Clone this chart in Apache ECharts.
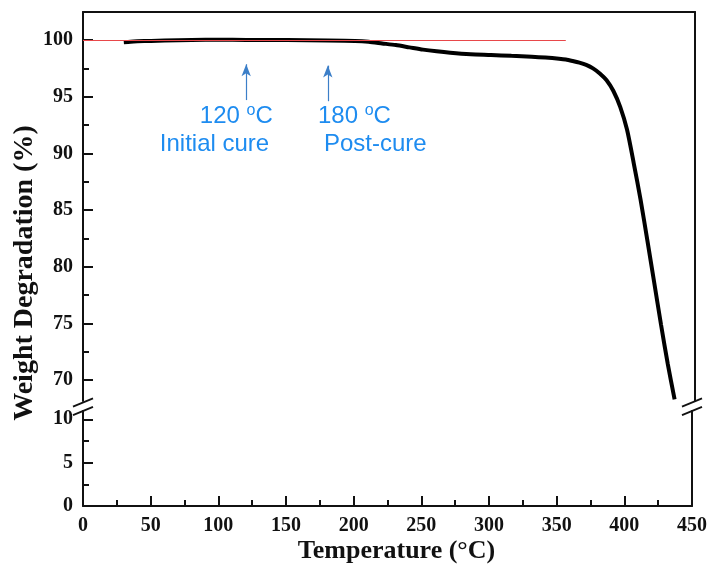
<!DOCTYPE html>
<html>
<head>
<meta charset="utf-8">
<script src="https://cdn.jsdelivr.net/npm/echarts@6/dist/echarts.min.js"></script>
<style>html,body{margin:0;padding:0;background:#fff}#c{width:710px;height:566px}</style>
</head>
<body>
<div id="c"></div>
<script>
// ---- data ----
var temperature = [30, 35, 40, 50, 60, 80, 100, 120, 150, 180, 200, 210, 220, 230, 240, 250, 260, 270, 285, 300, 315, 330, 340, 350, 355, 360, 365, 370, 375, 380, 385, 390, 395, 400, 405, 410, 415, 420, 425, 430, 435];
var weight      = [99.8, 99.85, 99.88, 99.92, 99.95, 100.0, 100.02, 100.01, 99.99, 99.96, 99.92, 99.85, 99.7, 99.55, 99.35, 99.15, 99.0, 98.88, 98.75, 98.68, 98.6, 98.52, 98.45, 98.35, 98.28, 98.15, 98.0, 97.8, 97.5, 97.05, 96.45, 95.5, 94.1, 92.1, 89.1, 85.9, 82.3, 78.6, 74.9, 71.4, 68.3];
var xTicks = [0, 50, 100, 150, 200, 250, 300, 350, 400, 450];
var upperTicks = [70, 75, 80, 85, 90, 95, 100];
var upperMinor = [72.5, 77.5, 82.5, 87.5, 92.5, 97.5];
var lowerTicks = [0, 5, 10];
var lowerMinor = [2.5, 7.5];
var upperRange = [68.15, 102.47];
var lowerRange = [0, 10.96];
var refLine = [[0, 100], [355, 100]];
var arrows = [[[120, 94.7], [120, 97.86]], [[180, 94.6], [180, 97.74]]];
var annotations = [
  {temp: '120', x: 112.7, y: 92.2, note: 'Initial cure', nx: 96.7, ny: 89.76},
  {temp: '180', x: 199.6, y: 92.2, note: 'Post-cure', nx: 214.9, ny: 89.76}
];
var xTitle = 'Temperature (\u00B0C)';
var yTitle = 'Weight Degradation (%)';

var AX = '#111';
var SERIF = '"Liberation Serif", "Times New Roman", serif';
var tickFont = {fontFamily: SERIF, fontWeight: 'bold', fontSize: 20, color: '#111'};

function frameY(grid, pos) {
  return {gridIndex: grid, type: 'value', position: pos, min: grid === 0 ? upperRange[0] : lowerRange[0], max: grid === 0 ? upperRange[1] : lowerRange[1],
    axisLine: {show: true, lineStyle: {color: AX, width: 2}}, axisTick: {show: false}, axisLabel: {show: false}, splitLine: {show: false}};
}
function minorY(grid, vals) {
  return {gridIndex: grid, type: 'value', position: 'left', min: grid === 0 ? upperRange[0] : lowerRange[0], max: grid === 0 ? upperRange[1] : lowerRange[1],
    axisLine: {show: false}, axisTick: {show: true, inside: true, length: 6, customValues: vals, lineStyle: {color: AX, width: 2}},
    axisLabel: {show: false}, splitLine: {show: false}};
}
function mainY(grid, vals, range) {
  return {gridIndex: grid, type: 'value', position: 'left', min: range[0], max: range[1],
    axisLine: {show: true, onZero: false, lineStyle: {color: AX, width: 2}},
    axisTick: {show: true, inside: true, length: 10, customValues: vals, lineStyle: {color: AX, width: 2}},
    axisLabel: Object.assign({show: true, customValues: vals, margin: 10}, tickFont),
    splitLine: {show: false}};
}

var chart = echarts.init(document.getElementById('c'), null, {renderer: 'canvas'});
var option = {
  animation: false,
  backgroundColor: '#fff',
  grid: [
    {left: 83, right: 15, top: 12, height: 389},
    {left: 83, right: 15, top: 411, height: 95}
  ],
  xAxis: [
    {gridIndex: 0, type: 'value', position: 'top', min: 0, max: 450,
      axisLine: {show: true, onZero: false, lineStyle: {color: AX, width: 2}}, axisTick: {show: false}, axisLabel: {show: false}, splitLine: {show: false}},
    {gridIndex: 1, type: 'value', position: 'bottom', min: 0, max: 450, interval: 50,
      axisLine: {show: true, onZero: false, lineStyle: {color: AX, width: 2}},
      axisTick: {show: true, inside: true, length: 10, customValues: xTicks, lineStyle: {color: AX, width: 2}},
      minorTick: {show: true, splitNumber: 2, length: 6, lineStyle: {color: AX, width: 2}},
      axisLabel: Object.assign({show: true, customValues: xTicks, margin: 10}, tickFont),
      splitLine: {show: false}}
  ],
  yAxis: [
    mainY(0, upperTicks, upperRange),
    minorY(0, upperMinor),
    frameY(0, 'right'),
    mainY(1, lowerTicks, lowerRange),
    minorY(1, lowerMinor),
    frameY(1, 'right')
  ],
  series: [
    {type: 'line', xAxisIndex: 0, yAxisIndex: 0, data: temperature.map(function (t, i) { return [t, weight[i]]; }),
      symbol: 'none', smooth: 0.25, lineStyle: {color: '#000', width: 4}, silent: true, z: 3},
    {type: 'line', xAxisIndex: 0, yAxisIndex: 0, data: [], silent: true, z: 5,
      markLine: {silent: true, symbol: ['none', 'none'], label: {show: false},
        lineStyle: {color: '#e8474a', width: 1, type: 'solid'},
        data: [[{coord: refLine[0]}, {coord: refLine[1]}]]}},
    {type: 'line', xAxisIndex: 0, yAxisIndex: 0, data: [], silent: true, z: 5,
      markLine: {silent: true, symbol: ['none', 'arrow'], symbolSize: [7, 12], label: {show: false},
        lineStyle: {color: '#3c7fc8', width: 1.2, type: 'solid'},
        data: arrows.map(function (a) { return [{coord: a[0]}, {coord: a[1]}]; })}}
  ]
};
chart.setOption(option);

// decorations computed from the axes
var g = [];
var x0 = chart.convertToPixel({xAxisIndex: 1}, 0);
var x1 = chart.convertToPixel({xAxisIndex: 1}, 450);
var gapTop = chart.convertToPixel({yAxisIndex: 0}, upperRange[0]);
var gapBot = chart.convertToPixel({yAxisIndex: 3}, lowerRange[1]);
[x0, x1].forEach(function (xc) {
  [gapTop + 1.5, gapBot].forEach(function (yc) {
    g.push({type: 'line', shape: {x1: xc - 10, y1: yc + 4.2, x2: xc + 10, y2: yc - 4.2}, style: {stroke: AX, lineWidth: 1.8}});
  });
});
var BLUE = '#1e8cf0';
var SANS = '"Liberation Sans", Arial, sans-serif';
annotations.forEach(function (a) {
  var p = chart.convertToPixel({xAxisIndex: 0, yAxisIndex: 0}, [a.x, a.y]);
  g.push({type: 'text', x: p[0], y: p[1], style: {
    text: '{a|' + a.temp + ' }{s|o}{a|C}', align: 'center', verticalAlign: 'bottom',
    rich: {a: {fontFamily: SANS, fontSize: 24, fill: BLUE, lineHeight: 26, verticalAlign: 'bottom'},
           s: {fontFamily: SANS, fontSize: 16, fill: BLUE, lineHeight: 26, verticalAlign: 'top', padding: [0, 0, 0, 0]}}
  }});
  var q = chart.convertToPixel({xAxisIndex: 0, yAxisIndex: 0}, [a.nx, a.ny]);
  g.push({type: 'text', x: q[0], y: q[1], style: {text: a.note, align: 'center', verticalAlign: 'bottom', font: '24px ' + SANS, fill: BLUE}});
});
var midY = (chart.convertToPixel({yAxisIndex: 0}, upperRange[1]) + chart.convertToPixel({yAxisIndex: 3}, 0)) / 2;
g.push({type: 'text', x: 25, y: midY + 14, rotation: Math.PI / 2, style: {text: yTitle, align: 'center', verticalAlign: 'middle', font: 'bold 28px ' + SERIF, fill: '#111'}});
g.push({type: 'text', x: (x0 + x1) / 2 + 9, y: 551, style: {text: xTitle, align: 'center', verticalAlign: 'middle', font: 'bold 26px ' + SERIF, fill: '#111'}});
chart.setOption({graphic: g});
</script>
</body>
</html>
